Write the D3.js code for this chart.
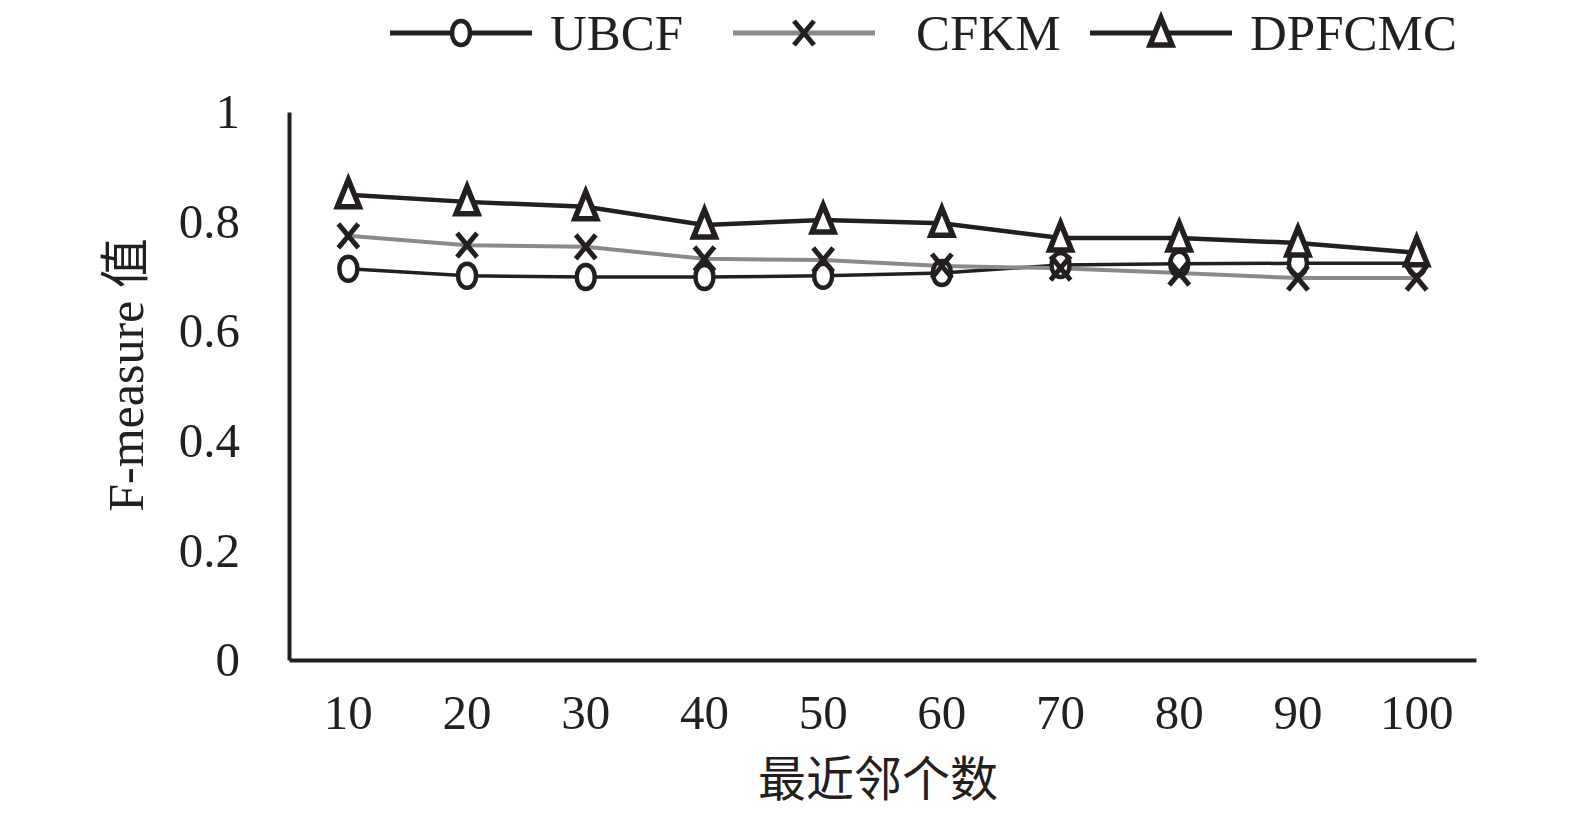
<!DOCTYPE html>
<html>
<head>
<meta charset="utf-8">
<script src="https://cdn.jsdelivr.net/npm/d3@7"></script>
<style>
  body { margin: 0; background: #fff; }
  svg { display: block; }
</style>
</head>
<body>
<svg id="chart"></svg>
<script>
// data
var neighbours = ["10", "20", "30", "40", "50", "60", "70", "80", "90", "100"];
var ubcf   = [0.714, 0.701, 0.699, 0.699, 0.701, 0.706, 0.721, 0.723, 0.724, 0.724];
var cfkm   = [0.774, 0.757, 0.754, 0.732, 0.730, 0.719, 0.715, 0.706, 0.697, 0.697];
var dpfcmc = [0.849, 0.836, 0.827, 0.794, 0.803, 0.797, 0.770, 0.770, 0.761, 0.743];
var seriesNames = ["UBCF", "CFKM", "DPFCMC"];
var yTicks = [0, 0.2, 0.4, 0.6, 0.8, 1];

var W = 1575, H = 814;
var ink = "#231f20";
var serif = "'Liberation Serif', 'Times New Roman', serif";

var series = [
    {name: seriesNames[0], values: ubcf,   color: ink,       width: 3.5, marker: "circle"},
    {name: seriesNames[1], values: cfkm,   color: "#8a8a8a", width: 4,   marker: "cross"},
    {name: seriesNames[2], values: dpfcmc, color: ink,       width: 4.5, marker: "triangle"}
];

var svg = d3.select("#chart").attr("width", W).attr("height", H);

var x = d3.scaleBand().domain(neighbours).range([289, 1476]);
var y = d3.scaleLinear().domain([0, 1]).range([660, 112]);

function cx(d, i) { return x(neighbours[i]) + x.bandwidth() / 2; }

//////////////////////////////////////////////////////////////////////////////
// axes

var yAxis = svg.append("g")
    .attr("transform", "translate(289,0)")
    .call(d3.axisLeft(y).tickValues(yTicks).tickSize(0).tickPadding(49)
        .tickFormat(function(d) { return d3.format("")(+d.toFixed(1)); }));

var xAxis = svg.append("g")
    .attr("transform", "translate(0,660)")
    .call(d3.axisBottom(x).tickSize(0).tickPadding(34));

[yAxis, xAxis].forEach(function(g) {
    g.select(".domain").attr("stroke", ink).attr("stroke-width", 4);
    g.selectAll("text")
        .attr("fill", ink)
        .style("font-family", serif)
        .style("font-size", "49px");
});

svg.append("text")
    .attr("transform", "translate(143,375) rotate(-90)")
    .attr("text-anchor", "middle")
    .attr("fill", ink)
    .style("font-family", serif + ", 'Noto Sans CJK SC'")
    .style("font-size", "50px")
    .text("F-measure 值");

svg.append("text")
    .attr("x", 878).attr("y", 796)
    .attr("text-anchor", "middle")
    .attr("fill", ink)
    .style("font-family", "'Noto Sans CJK SC'")
    .style("font-size", "48px")
    .text("最近邻个数");

//////////////////////////////////////////////////////////////////////////////
// markers

function drawMarker(sel, type) {
    if (type === "circle") {
        sel.append("path")
            .attr("d", "M0,-12 C6,-12 9,-6 9,0 C9,6 6,12 0,12 C-6,12 -9,6 -9,0 C-9,-6 -6,-12 0,-12 Z")
            .attr("fill", "#fff").attr("stroke", ink).attr("stroke-width", 4.5);
    } else if (type === "cross") {
        sel.append("path")
            .attr("d", "M-10,-12 L10,12 M10,-12 L-10,12")
            .attr("fill", "none").attr("stroke", ink).attr("stroke-width", 5);
    } else {
        sel.append("path")
            .attr("d", "M0,-15 L11,12 L-11,12 Z")
            .attr("fill", "#fff").attr("stroke", ink).attr("stroke-width", 5.5)
            .attr("stroke-linejoin", "miter");
    }
}

var line = d3.line()
    .x(cx)
    .y(function(d) { return y(d); });

series.forEach(function(s) {
    svg.append("path")
        .datum(s.values)
        .attr("d", line)
        .attr("fill", "none")
        .attr("stroke", s.color)
        .attr("stroke-width", s.width);
});

series.forEach(function(s) {
    svg.append("g")
        .selectAll("g")
        .data(s.values)
        .enter()
        .append("g")
        .attr("transform", function(d, i) { return "translate(" + cx(d, i) + "," + y(d) + ")"; })
        .each(function() { drawMarker(d3.select(this), s.marker); });
});

//////////////////////////////////////////////////////////////////////////////
// legend

var legendX = [390, 733, 1090];
var legendText = [550, 916, 1250];
series.forEach(function(s, i) {
    var g = svg.append("g").attr("transform", "translate(" + legendX[i] + ",33)");
    g.append("line")
        .attr("x1", 0).attr("x2", 142)
        .attr("stroke", s.color).attr("stroke-width", 5);
    drawMarker(g.append("g").attr("transform", "translate(71,0)"), s.marker);
    svg.append("text")
        .attr("x", legendText[i]).attr("y", 50)
        .attr("fill", ink)
        .style("font-family", serif)
        .style("font-size", "51px")
        .text(s.name);
});
</script>
</body>
</html>
